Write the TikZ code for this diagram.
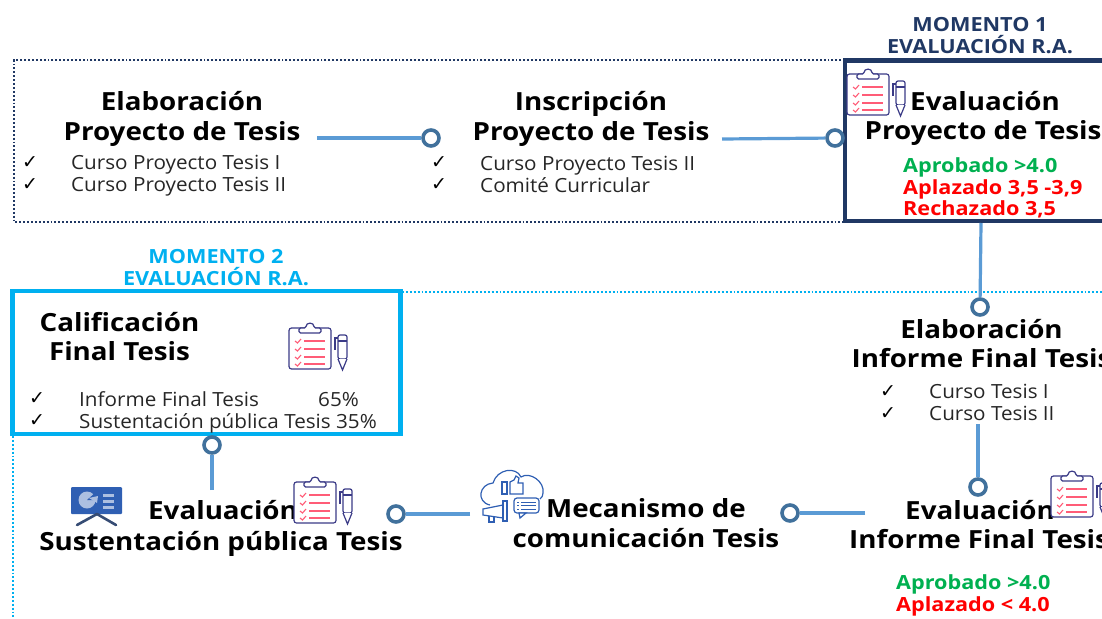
\documentclass[tikz,border=0pt]{standalone}
\usepackage{fontspec}
\setmainfont{Open Sans}
\newfontfamily\titlefont[FakeStretch=1.11]{Open Sans}
\newfontfamily\itemfont[FakeStretch=1.06]{Open Sans}
\newfontfamily\symfont{DejaVu Sans}
\definecolor{navy}{HTML}{203864}
\definecolor{skyb}{HTML}{00B0F0}
\definecolor{linkb}{HTML}{5B9BD5}
\definecolor{ringb}{HTML}{41719C}
\definecolor{okgreen}{HTML}{00B050}
\definecolor{iconv}{HTML}{3B3B87}
\definecolor{iconr}{HTML}{FF5C77}
\definecolor{bcomm}{HTML}{2F5FB3}
\tikzset{
  x=1pt,y=-1pt,
  title/.style={font=\titlefont\fontsize{25}{29.5}\selectfont\bfseries,align=center,inner sep=0pt,text=black},
  item/.style={font=\itemfont\fontsize{19.5}{22}\selectfont,anchor=base west,inner sep=0pt,text=black!85},
  chk/.style={font=\symfont\fontsize{19}{20}\selectfont,anchor=base west,inner sep=0pt},
  stat/.style={font=\titlefont\fontsize{19.5}{22.5}\selectfont\bfseries,anchor=base west,inner sep=0pt},
  mom/.style={font=\titlefont\fontsize{19.5}{22}\selectfont\bfseries,align=center,inner sep=0pt},
  ring/.style={circle,draw=ringb,line width=3.6pt,fill=white,minimum size=16pt,inner sep=0pt},
  link/.style={draw=linkb,line width=3.2pt},
  pics/clip/.style={code={
    \draw[iconv,line width=1.2pt,rounded corners=2.5pt,fill=white] (-21,-14) rectangle (21,27);
    \draw[iconv,line width=1.2pt,fill=white,rounded corners=1.5pt] (-11,-14) -- (-11,-9) -- (11,-9) -- (11,-14) -- (4,-14) .. controls (4,-20) and (-4,-20) .. (-4,-14) -- cycle;
    \foreach \yy in {-1,7,15,22}{
      \draw[iconr,line width=1.2pt] (-6,\yy) -- (15,\yy);
      \draw[iconr,line width=1.1pt] (-15,\yy) -- (-12.5,\yy+2) -- (-9,\yy-2);
    }
    \draw[iconv,line width=1.2pt,fill=white,rounded corners=2pt] (28,-7) rectangle (37,17);
    \draw[iconv,line width=1.2pt,fill=white] (28,17) -- (32.5,28) -- (37,17);
    \draw[iconv,line width=1.2pt] (28,-1) -- (37,-1);
    \draw[iconv,line width=1.2pt] (28,-4) -- (25,-4) -- (25,8);
  }},
}
\begin{document}
\begin{tikzpicture}
\useasboundingbox (0,0) rectangle (1102,618);
\clip (0,0) rectangle (1102,618);
% dotted frames
\draw[navy,line width=1.9pt,dotted] (845,60) -- (14,60) -- (14,222) -- (845,222);
\draw[skyb,line width=1.9pt,dotted] (402,292) -- (1102,292);
\draw[skyb,line width=1.9pt,dotted] (13,436) -- (13,618);
% moment boxes
\draw[navy,line width=4.5pt] (1110,60.5) -- (845,60.5) -- (845,221) -- (1110,221);
\draw[skyb,line width=4.3pt] (12.5,291) rectangle (400.5,434);
% moment labels
\node[mom,text=navy] (m1) at (980,36) {MOMENTO 1\\EVALUACIÓN R.A.};
\node[mom,text=skyb] (m2) at (216,267.5) {MOMENTO 2\\EVALUACIÓN R.A.};
% titles
\node[title] (t1) at (182,119) {Elaboración\\Proyecto de Tesis};
\node[title] (t2) at (591,119) {Inscripción\\Proyecto de Tesis};
\node[title,anchor=north west] (t3a) at (910,91) {Evaluación};
\node[title,anchor=north west] (t3b) at (864.5,120) {Proyecto de Tesis};
\node[title] (t4) at (119.5,336.5) {Calificación\\Final Tesis};
\node[title] (t5) at (981.5,343.5) {Elaboración\\Informe Final Tesis};
\node[title,anchor=north west] (t6a) at (148,500.5) {Evaluación};
\node[title] (t6b) at (221,543.5) {Sustentación pública Tesis};
\node[title] (t7) at (646,523) {Mecanismo de\\comunicación Tesis};
\node[title,anchor=north west] (t8a) at (905,500) {Evaluación};
\node[title,anchor=north west] (t8b) at (849,529) {Informe Final Tesis};
% lists
\node[chk] (c1) at (22,168) {✓};
\node[item] (i1) at (71,169) {Curso Proyecto Tesis I};
\node[chk] (c2) at (22,190) {✓};
\node[item] (i2) at (71,191) {Curso Proyecto Tesis II};
\node[chk] (c3) at (431,168) {✓};
\node[item] (i3) at (480,170.5) {Curso Proyecto Tesis II};
\node[chk] (c4) at (431,190) {✓};
\node[item] (i4) at (480,192.5) {Comité Curricular};
\node[chk] (c5) at (29,404) {✓};
\node[item] (i5) at (79,406) {Informe Final Tesis};
\node[item] (i5b) at (318,406) {65\%};
\node[chk] (c6) at (29,426) {✓};
\node[item] (i6) at (79,428) {Sustentación pública Tesis 35\%};
\node[chk] (c7) at (880,397) {✓};
\node[item] (i7) at (929,398) {Curso Tesis I};
\node[chk] (c8) at (880,419) {✓};
\node[item] (i8) at (929,420) {Curso Tesis II};
% status
\node[stat,text=okgreen] (s1) at (903,172) {Aprobado >4.0};
\node[stat,text=red] (s2) at (903,194) {Aplazado 3,5 -3,9};
\node[stat,text=red] (s3) at (903,215) {Rechazado 3,5};
\node[stat,text=okgreen] (s4) at (896,589) {Aprobado >4.0};
\node[stat,text=red] (s5) at (896,611) {Aplazado < 4.0};
% connectors
\node[ring] (r1) at (431,138) {};
\node[ring] (r2) at (835,138) {};
\node[ring] (r3) at (980,307) {};
\node[ring] (r4) at (212,445) {};
\node[ring] (r5) at (396,514) {};
\node[ring] (r6) at (790,513) {};
\node[ring] (r7) at (978,487) {};
\coordinate (e1) at (317,138);
\coordinate (e2) at (722,139);
\coordinate (e3) at (981,223);
\coordinate (e4) at (212,490);
\coordinate (e5) at (470,514);
\coordinate (e6) at (865,513);
\coordinate (e7) at (978,424);
\path[link] (e1) -- (r1);
\path[link] (e2) -- (r2);
\path[link] (e3) -- (r3);
\path[link] (e4) -- (r4);
\path[link] (e5) -- (r5);
\path[link] (e6) -- (r6);
\path[link] (e7) -- (r7);
% clipboard icons
\pic at (868,88) {clip};
\pic at (310,342) {clip};
\pic at (315,496) {clip};
\pic at (1072,490) {clip};
% presentation icon
\fill[bcomm,rounded corners=1pt] (71,487) rectangle (122,514);
\draw[navy!90,line width=2.6pt,line cap=round] (97,514) -- (77,525);
\draw[navy!90,line width=2.6pt,line cap=round] (97,514) -- (116,525);
\fill[white!60!bcomm] (87,500) circle[radius=8.5];
\fill[bcomm] (87,500) -- (96,492) -- (97,500) -- cycle;
\fill[white!60!bcomm] (89,498) -- (98,496) -- (97,503) -- cycle;
\foreach \yy in {495,501,507}\fill[white!60!bcomm] (103,\yy-1.5) rectangle (114,\yy+1.5);
% communication icon
\draw[bcomm,line width=1.2pt] (490,505)
  .. controls (476,502) and (479,484) .. (493,483)
  .. controls (497,469) and (516,466) .. (521,477)
  .. controls (530,471) and (545,482) .. (543,493)
  .. controls (543,496) and (542,497) .. (540,499);
\draw[bcomm,line width=1.2pt] (502,482) rectangle (507,494);
\draw[bcomm,line width=1.2pt] (510,482) -- (514,480) -- (516,476) -- (519,478) -- (518,483) -- (523,483) -- (523,494) -- (510,494) -- cycle;
\draw[bcomm,line width=1.2pt] (503,505) -- (483,509) -- (483,515) -- (503,518) -- cycle;
\draw[bcomm,line width=1.2pt,fill=white] (503,501) rectangle (507,521);
\draw[bcomm,line width=1.2pt] (489,516) -- (489,522) -- (494,522) -- (494,517);
\draw[bcomm,line width=1.2pt,fill=white,rounded corners=3pt] (514,498) rectangle (539,513);
\draw[bcomm,line width=1.2pt,fill=white] (519,513) -- (520,518) -- (526,513) -- cycle;
\foreach \yy in {502,505.5,509}{\draw[bcomm,line width=1pt] (521,\yy) -- (536,\yy);\draw[bcomm,line width=1pt] (517,\yy) -- (519,\yy);}
\end{tikzpicture}
\end{document}
